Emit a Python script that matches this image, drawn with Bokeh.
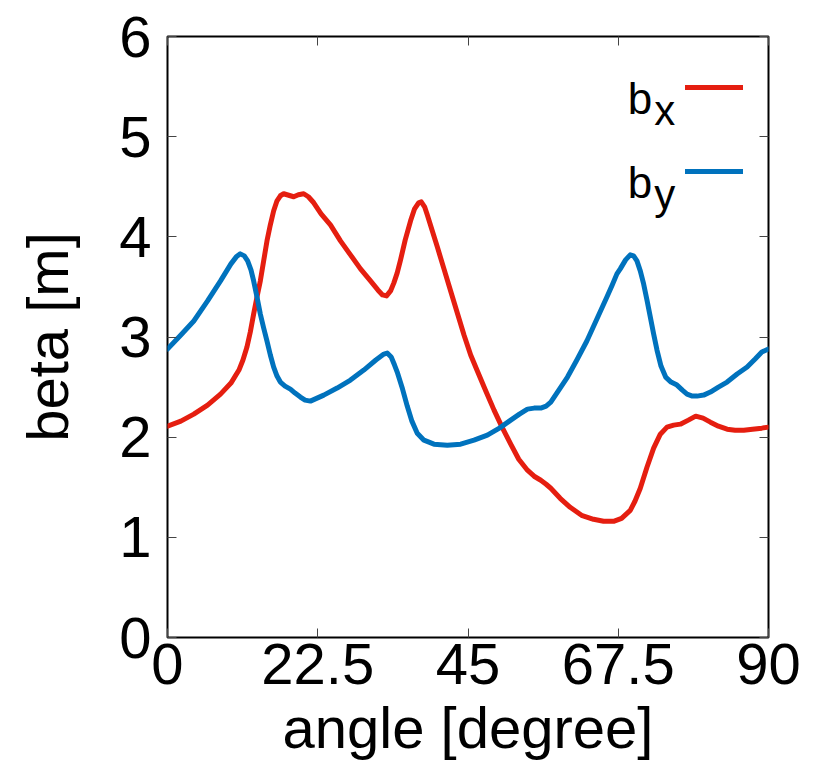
from bokeh.plotting import figure
from bokeh.models import (Range1d, FixedTicker, LinearAxis, Label, Legend,
                          LegendItem)
from bokeh.embed import file_html
from bokeh.resources import INLINE

# horizontal beta function along the sector angle
angle_x = [0, 2, 3.94, 6, 7.94, 9.5, 10.7, 11.3, 11.9, 12.4, 12.9, 13.4, 13.9,
           14.4, 14.9, 15.4, 15.9, 16.4, 16.9, 17.4, 17.9, 18.4, 18.9, 19.6,
           20.4, 21.1, 21.9, 23.0, 24.4, 25.9, 27.4, 28.9, 30.4, 31.5, 32.2,
           32.8, 33.4, 33.9, 34.4, 34.9, 35.6, 36.4, 37.0, 37.6, 38.0, 38.5,
           38.9, 39.6, 40.4, 41.4, 42.4, 43.4, 44.4, 45.4, 46.4, 47.6, 48.9,
           50.1, 51.4, 52.6, 53.9, 54.9, 55.9, 56.7, 57.4, 58.8, 60.3, 62.0,
           63.8, 65.3, 66.8, 68.0, 69.3, 70.0, 70.8, 71.8, 72.8, 73.8, 74.8,
           75.8, 76.8, 78.0, 79.1, 80.2, 81.3, 82.5, 83.8, 85.0, 86.3, 87.6,
           89.0, 90]
beta_x = [2.11, 2.16, 2.23, 2.32, 2.43, 2.54, 2.67, 2.77, 2.90, 3.05, 3.23,
          3.40, 3.56, 3.76, 3.96, 4.12, 4.26, 4.36, 4.41, 4.43, 4.42, 4.41,
          4.40, 4.42, 4.43, 4.40, 4.34, 4.23, 4.12, 3.96, 3.82, 3.68, 3.56,
          3.47, 3.42, 3.41, 3.46, 3.54, 3.64, 3.77, 3.97, 4.16, 4.28, 4.34,
          4.35, 4.30, 4.22, 4.07, 3.90, 3.68, 3.46, 3.24, 3.02, 2.82, 2.66,
          2.47, 2.27, 2.10, 1.93, 1.78, 1.67, 1.61, 1.57, 1.53, 1.49, 1.39,
          1.30, 1.22, 1.18, 1.16, 1.16, 1.19, 1.27, 1.36, 1.49, 1.70, 1.89,
          2.03, 2.10, 2.12, 2.13, 2.17, 2.21, 2.19, 2.15, 2.11, 2.08, 2.07,
          2.07, 2.08, 2.09, 2.10]

# vertical beta function along the sector angle
angle_y = [0, 2, 3.94, 6, 7.94, 9.5, 10.3, 10.9, 11.5, 12.0, 12.5, 12.9, 13.4,
           13.9, 14.4, 14.9, 15.4, 15.9, 16.4, 16.9, 17.6, 18.4, 19.1, 19.9,
           20.6, 21.4, 23.4, 25.4, 27.4, 29.4, 31.2, 32.4, 32.9, 33.5, 34.0,
           34.4, 35.2, 35.9, 36.6, 37.4, 38.4, 39.9, 41.9, 43.9, 45.9, 47.9,
           49.7, 51.4, 52.7, 53.9, 54.9, 55.9, 56.7, 57.4, 58.6, 59.9, 61.3,
           62.8, 64.3, 65.8, 66.6, 67.3, 67.8, 68.6, 69.3, 69.8, 70.3, 70.8,
           71.3, 71.8, 72.3, 72.8, 73.3, 73.9, 74.6, 75.4, 76.3, 77.1, 77.8,
           78.6, 79.3, 80.3, 81.3, 82.5, 83.8, 85.3, 86.8, 88.0, 89.0, 90]
beta_y = [2.88, 3.02, 3.16, 3.36, 3.56, 3.73, 3.80, 3.83, 3.81, 3.76, 3.67,
          3.56, 3.40, 3.23, 3.09, 2.96, 2.82, 2.70, 2.61, 2.55, 2.51, 2.48,
          2.44, 2.40, 2.37, 2.36, 2.42, 2.49, 2.57, 2.67, 2.77, 2.83, 2.84,
          2.80, 2.72, 2.65, 2.48, 2.31, 2.16, 2.04, 1.97, 1.93, 1.92, 1.93,
          1.97, 2.02, 2.09, 2.17, 2.23, 2.28, 2.29, 2.29, 2.31, 2.35, 2.47,
          2.60, 2.77, 2.96, 3.18, 3.40, 3.52, 3.63, 3.68, 3.77, 3.82, 3.81,
          3.76, 3.66, 3.53, 3.37, 3.20, 3.03, 2.87, 2.71, 2.60, 2.55, 2.52,
          2.47, 2.43, 2.41, 2.41, 2.42, 2.45, 2.50, 2.55, 2.63, 2.70, 2.78,
          2.85, 2.88]

x_ticks = [0, 22.5, 45, 67.5, 90]
y_ticks = [0, 1, 2, 3, 4, 5, 6]

RED = "#E51E10"
BLUE = "#0072BD"
FONT = "Liberation Sans"

p = figure(frame_width=601, frame_height=601,
           min_border_left=167, min_border_right=54,
           min_border_top=36, min_border_bottom=130,
           x_range=Range1d(0, 90), y_range=Range1d(0, 6),
           output_backend="svg", toolbar_location=None,
           background_fill_color="white", border_fill_color="white")

p.xgrid.visible = False
p.ygrid.visible = False
p.outline_line_color = "black"
p.outline_line_width = 2
p.outline_line_alpha = 1

r_bx = p.line(angle_x, beta_x, line_color=RED, line_width=5,
              line_join="round", line_cap="round")
r_by = p.line(angle_y, beta_y, line_color=BLUE, line_width=5,
              line_join="round", line_cap="round")


def style_axis(ax, ticks, labels=True):
    ax.ticker = FixedTicker(ticks=ticks)
    ax.axis_line_color = None
    ax.major_tick_in = 9
    ax.major_tick_out = 0
    ax.major_tick_line_color = "#444444"
    ax.major_tick_line_width = 1
    ax.minor_tick_line_color = None
    if not labels:
        ax.major_label_text_font_size = "0px"
        ax.major_label_text_color = None


xa = p.xaxis[0]
style_axis(xa, x_ticks)
xa.axis_label = "angle [degree]"
xa.major_label_text_font = FONT
xa.major_label_text_font_size = "58px"
xa.major_label_text_color = "black"
xa.major_label_standoff = 6
xa.axis_label_text_font = FONT
xa.axis_label_text_font_size = "58px"
xa.axis_label_text_font_style = "normal"
xa.axis_label_text_color = "black"
xa.axis_label_standoff = 8

ya = p.yaxis[0]
style_axis(ya, y_ticks)
ya.axis_label = "beta [m]"
ya.major_label_text_font = FONT
ya.major_label_text_font_size = "58px"
ya.major_label_text_color = "black"
ya.major_label_standoff = 16
ya.axis_label_text_font = FONT
ya.axis_label_text_font_size = "58px"
ya.axis_label_text_font_style = "normal"
ya.axis_label_text_color = "black"
ya.axis_label_standoff = 36

# mirrored ticks on the top and right edges
top = LinearAxis()
style_axis(top, x_ticks, labels=False)
p.add_layout(top, "above")
right = LinearAxis()
style_axis(right, y_ticks, labels=False)
p.add_layout(right, "right")

# legend: line keys only, names drawn as labels with subscripts
legend = Legend(items=[LegendItem(label=" ", renderers=[r_bx]),
                       LegendItem(label=" ", renderers=[r_by])],
                location=(518, 456), orientation="vertical",
                glyph_width=58, glyph_height=20, label_height=20,
                label_width=0, label_standoff=0, label_text_font_size="1px",
                spacing=64, padding=0, margin=0,
                background_fill_alpha=0, border_line_alpha=0)
p.add_layout(legend, "center")

for name, sub, yb, ys in [("b", "x", 5.38, 5.26), ("b", "y", 4.54, 4.42)]:
    p.add_layout(Label(x=72.6, y=yb, text=name, text_font=FONT,
                       text_font_size="44px", text_align="right",
                       text_baseline="alphabetic", text_color="black"))
    p.add_layout(Label(x=72.9, y=ys, text=sub, text_font=FONT,
                       text_font_size="42px", text_align="left",
                       text_baseline="alphabetic", text_color="black"))

open("out.html", "w").write(file_html(p, INLINE))
